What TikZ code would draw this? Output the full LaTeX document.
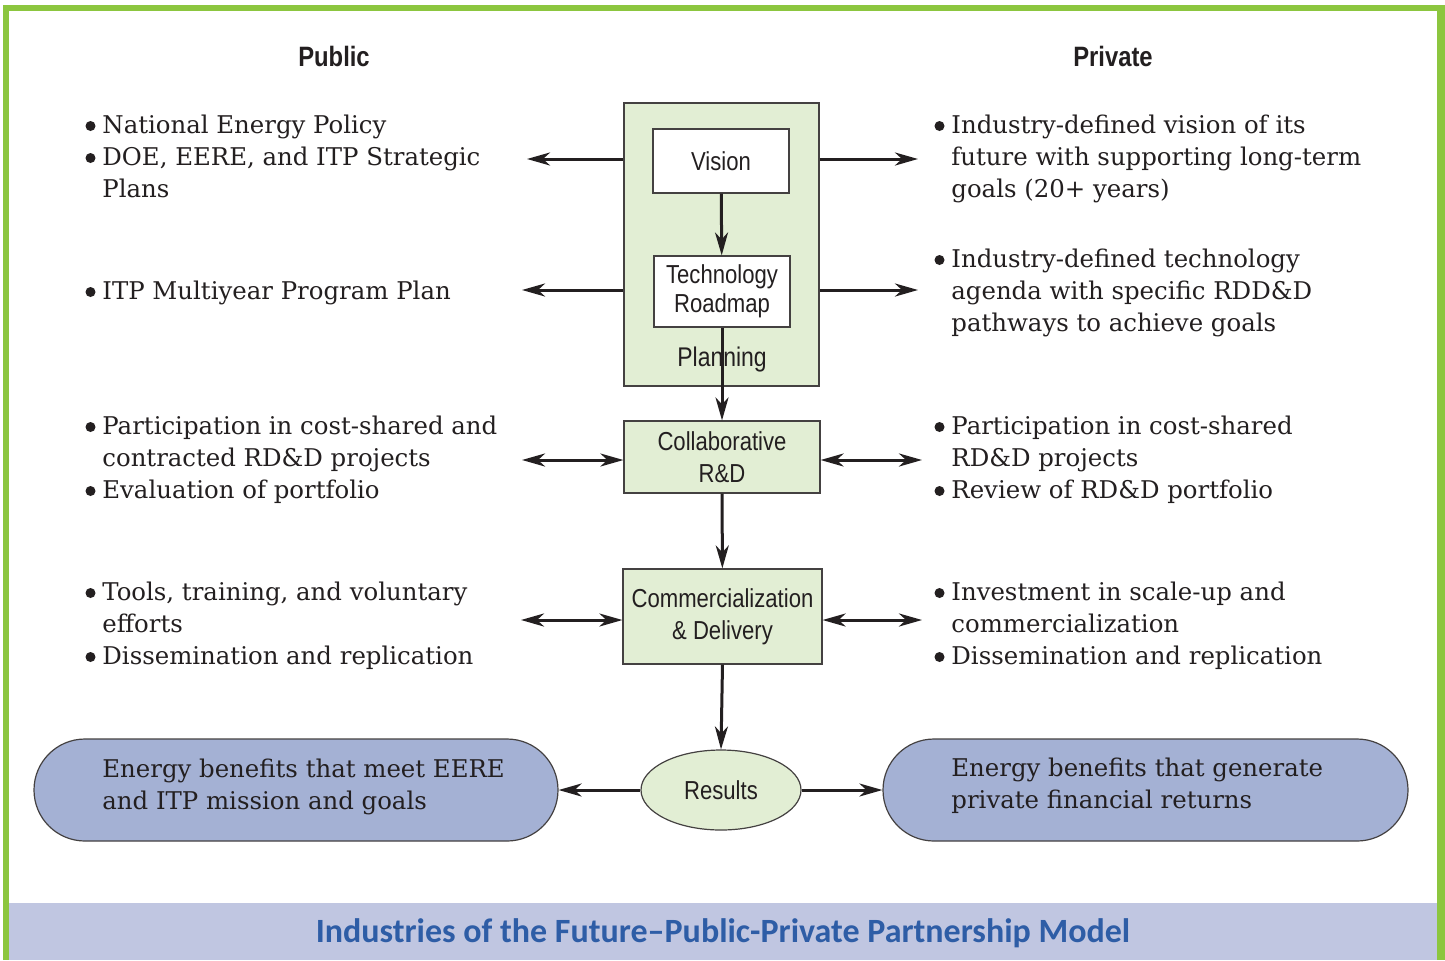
\documentclass[tikz,border=0pt]{standalone}
\usepackage{fontspec}
\setmainfont{DejaVu Serif}
\newfontfamily\condfont[FakeStretch=0.85]{Liberation Sans}
\newfontfamily\titlefont{Carlito}
\usetikzlibrary{arrows.meta,shapes.geometric}
\definecolor{framegreen}{RGB}{140,198,63}
\definecolor{boxgreen}{RGB}{226,238,212}
\definecolor{benblue}{RGB}{164,177,212}
\definecolor{bandblue}{RGB}{192,198,225}
\definecolor{titleblue}{RGB}{46,93,166}
\definecolor{ink}{RGB}{35,31,32}
\tikzset{
  x=0.5pt, y=-0.5pt,
  txt/.style={anchor=base west, inner sep=0pt, text=ink, font=\fontsize{12.2}{16}\selectfont},
  hdr/.style={text=ink, font=\condfont\bfseries\fontsize{14}{16}\selectfont},
  gbox/.style={draw=ink!85, line width=0.6pt, fill=boxgreen, align=center, text=ink,
    font=\condfont\fontsize{13}{16}\selectfont, inner sep=0pt},
  wbox/.style={gbox, fill=white},
  ben/.style={draw=ink!85, line width=0.6pt, fill=benblue, rounded corners=25.5pt,
    minimum height=51pt, inner sep=0pt},
  arr/.style={draw=ink, line width=1.5pt, -{Stealth[length=11.5pt,width=6.5pt,inset=3.5pt]}},
  darr/.style={draw=ink, line width=1.5pt, {Stealth[length=11.5pt,width=6.5pt,inset=3.5pt]}-{Stealth[length=11.5pt,width=6.5pt,inset=3.5pt]}},
  bul/.style={circle, fill=ink, inner sep=0pt, minimum size=5pt},
}
\begin{document}
\begin{tikzpicture}
\useasboundingbox (0,0) rectangle (1445,960);
% frame
\fill[framegreen] (3,5) rectangle (1445,960);
\fill[white] (9,11) rectangle (1437,960);
\fill[bandblue] (9,903) rectangle (1437,960);
\node[text=titleblue, font=\titlefont\bfseries\fontsize{17}{18}\selectfont] (title) at (723,933) {Industries of the Future–Public-Private Partnership Model};

% headers
\node[hdr] (hpub) at (334,56) {Public};
\node[hdr] (hpriv) at (1113,56) {Private};

% central column
\node[gbox, minimum width=97.5pt, minimum height=141.5pt] (plan) at (721.5,244.5) {};
\node[gbox, fill=none, draw=none, font=\condfont\fontsize{13.5}{16}\selectfont] (planlbl) at (722,360) {Planning};
\node[wbox, minimum width=68pt, minimum height=32pt] (vis) at (721,161) {Vision};
\node[wbox, minimum width=68pt, minimum height=35.5pt, font=\condfont\fontsize{13}{14.5}\selectfont] (tr) at (722,291.5) {Technology\\Roadmap};
\node[gbox, minimum width=98pt, minimum height=36pt] (collab) at (722,457) {Collaborative\\R\&D};
\node[gbox, minimum width=99.5pt, minimum height=47.5pt] (comm) at (722.5,616.5) {Commercialization\\\& Delivery};
\node[ellipse, draw=ink!85, line width=0.6pt, fill=boxgreen, minimum width=80pt, minimum height=40pt, inner sep=0pt, text=ink, font=\condfont\fontsize{13}{16}\selectfont] (res) at (721,790) {Results};

% benefit boxes
\node[ben, minimum width=262pt] (lben) at (296,790) {};
\node[ben, minimum width=262.5pt] (rben) at (1145.5,790) {};
\node[txt] (lb1) at (102,777) {Energy benefits that meet EERE};
\node[txt] (lb2) at (102,809) {and ITP mission and goals};
\node[txt] (rb1) at (951,776) {Energy benefits that generate};
\node[txt] (rb2) at (951,808) {private financial returns};

% vertical flow
\draw[arr] (vis) -- (tr);
\draw[arr] (tr.south) -- (collab.north);
\draw[arr] (collab) -- (comm);
\draw[arr] (comm.south) -- (res.north);
\draw[arr] (res) -- (lben);
\draw[arr] (res) -- (rben);

% side arrow ends
\coordinate (pl1) at (527,159);
\coordinate (pr1) at (918,159);
\coordinate (pl2) at (522,290);
\coordinate (pr2) at (918,290);
\coordinate (pl3) at (522,460);
\coordinate (pr3) at (922,460);
\coordinate (pl4) at (521,620);
\coordinate (pr4) at (922,620);
\draw[arr] (plan.west |- pl1) -- (pl1);
\draw[arr] (plan.east |- pr1) -- (pr1);
\draw[arr] (plan.west |- pl2) -- (pl2);
\draw[arr] (plan.east |- pr2) -- (pr2);
\draw[darr] (pl3) -- (collab.west |- pl3);
\draw[darr] (collab.east |- pr3) -- (pr3);
\draw[darr] (pl4) -- (comm.west |- pl4);
\draw[darr] (comm.east |- pr4) -- (pr4);

% left texts
\node[txt] (a1) at (102,133) {National Energy Policy};
\node[txt] (a2) at (102,165) {DOE, EERE, and ITP Strategic};
\node[txt] (a3) at (102,197) {Plans};
\node[txt] (b1) at (102,299) {ITP Multiyear Program Plan};
\node[txt] (c1) at (102,434) {Participation in cost-shared and};
\node[txt] (c2) at (102,466) {contracted RD\&D projects};
\node[txt] (c3) at (102,498) {Evaluation of portfolio};
\node[txt] (d1) at (102,600) {Tools, training, and voluntary};
\node[txt] (d2) at (102,632) {efforts};
\node[txt] (d3) at (102,664) {Dissemination and replication};
\foreach \yy [count=\i] in {133,165,299,434,498,600,664}
  \node[bul] (lbul\i) at (90.5,\yy-7) {};

% right texts
\node[txt] (e1) at (951,133) {Industry-defined vision of its};
\node[txt] (e2) at (951,165) {future with supporting long-term};
\node[txt] (e3) at (951,197) {goals (20+ years)};
\node[txt] (f1) at (951,267) {Industry-defined technology};
\node[txt] (f2) at (951,299) {agenda with specific RDD\&D};
\node[txt] (f3) at (951,331) {pathways to achieve goals};
\node[txt] (g1) at (951,434) {Participation in cost-shared};
\node[txt] (g2) at (951,466) {RD\&D projects};
\node[txt] (g3) at (951,498) {Review of RD\&D portfolio};
\node[txt] (h1) at (951,600) {Investment in scale-up and};
\node[txt] (h2) at (951,632) {commercialization};
\node[txt] (h3) at (951,664) {Dissemination and replication};
\foreach \yy [count=\i] in {133,267,434,498,600,664}
  \node[bul] (rbul\i) at (939.5,\yy-7) {};
\end{tikzpicture}
\end{document}
